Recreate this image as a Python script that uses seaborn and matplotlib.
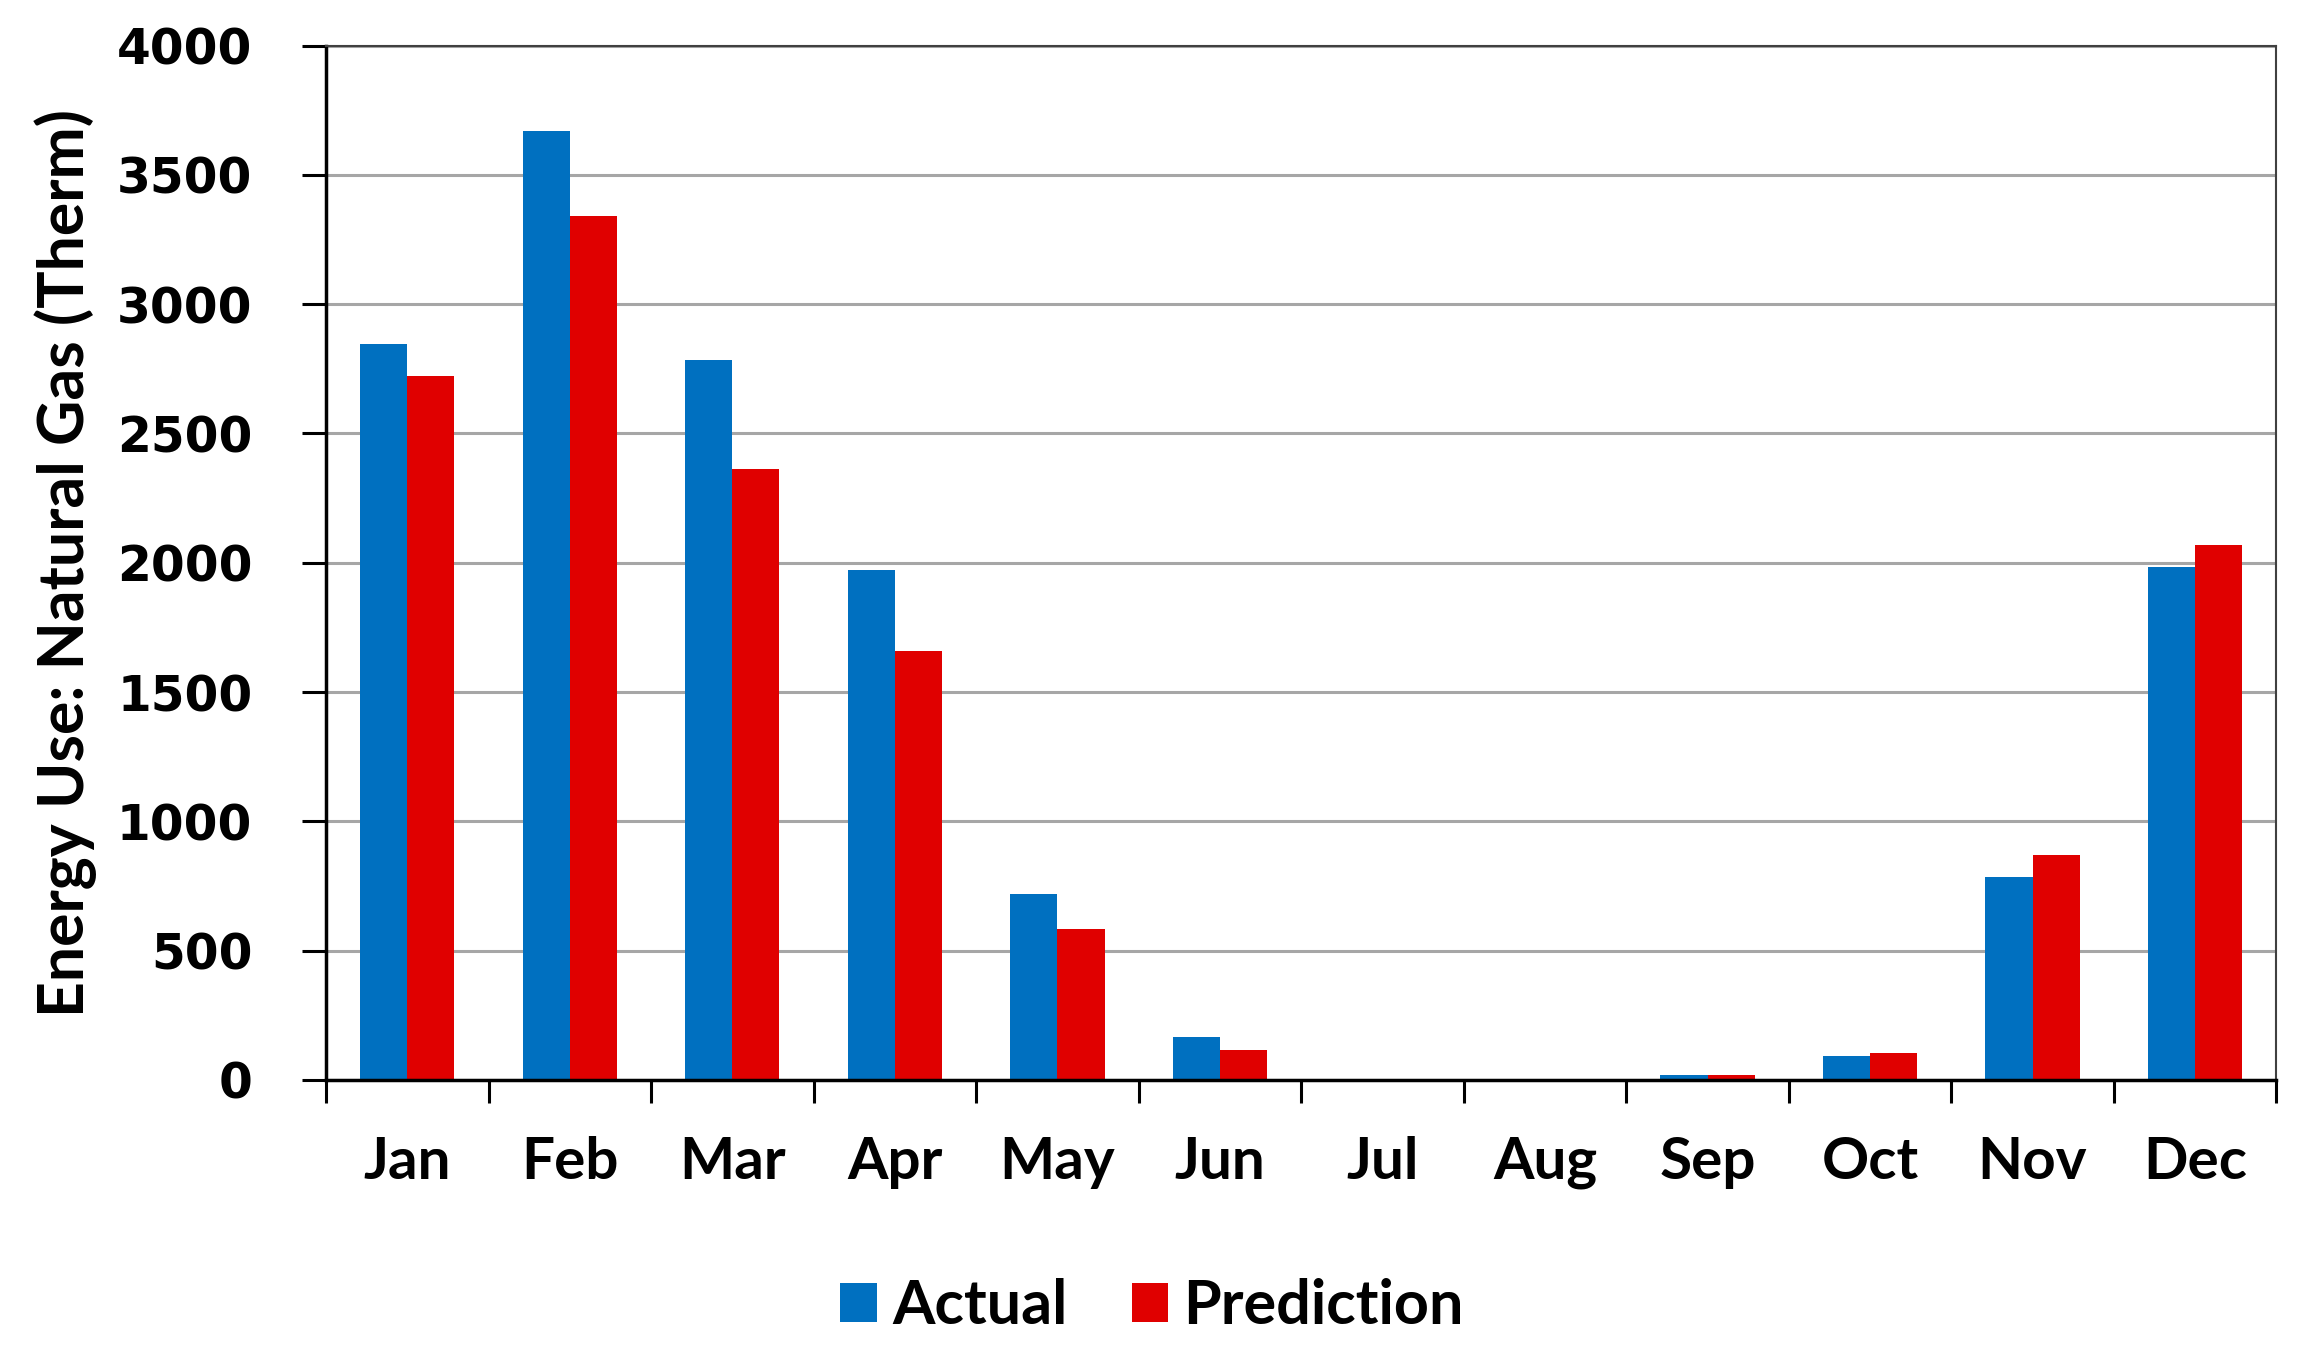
import matplotlib
matplotlib.use("Agg")
import matplotlib.pyplot as plt
import seaborn as sns
import pandas as pd
import numpy as np
from matplotlib.patches import Patch

months = ["Jan", "Feb", "Mar", "Apr", "May", "Jun", "Jul", "Aug", "Sep", "Oct", "Nov", "Dec"]
actual = [2845, 3670, 2783, 1971, 721, 166, 0, 0, 18, 92, 785, 1982]
prediction = [2721, 3340, 2363, 1659, 585, 115, 0, 0, 18, 103, 869, 2068]
series_names = ["Actual", "Prediction"]
colors = ["#0070C0", "#E00000"]
yticks = [0, 500, 1000, 1500, 2000, 2500, 3000, 3500, 4000]

df = pd.DataFrame({
    "Month": months * 2,
    "Value": actual + prediction,
    "Series": [series_names[0]] * len(months) + [series_names[1]] * len(months),
})

sns.set_theme(style="white")
plt.rcParams["font.family"] = ["DejaVu Sans"]
plt.rcParams["text.color"] = "black"
plt.rcParams["xtick.color"] = "black"
plt.rcParams["ytick.color"] = "black"
plt.rcParams["axes.labelcolor"] = "black"

fig = plt.figure(figsize=(23.04, 13.52), dpi=100)
ax = fig.add_axes([0.1415, 0.2012, 0.8465, 0.7651])

sns.barplot(data=df, x="Month", y="Value", hue="Series", order=months,
            hue_order=series_names, palette=colors, width=0.58, ax=ax,
            saturation=1, legend=False, linewidth=0)

ax.set_ylim(0, 4000)
ax.set_xlim(-0.5, len(months) - 0.5)
ax.set_yticks(yticks)
ax.set_yticklabels([str(v) for v in yticks], fontsize=35, fontweight="bold",
                   family="DejaVu Sans")
ax.yaxis.grid(True, color="#A6A6A6", linewidth=2.2)
ax.set_axisbelow(True)

ax.set_xticks(range(len(months)))
ax.set_xticklabels(months, fontsize=42, fontweight="bold", family="Lato")
ax.set_xticks(np.arange(-0.5, len(months), 1.0), minor=True)
ax.tick_params(axis="x", which="major", length=0, pad=40)
ax.tick_params(axis="x", which="minor", length=16.5, width=2.2, color="black",
               direction="out", bottom=True)
ax.tick_params(axis="y", which="major", length=17, width=2.2, color="black",
               direction="out", left=True, pad=36)

ax.set_xlabel("")
ax.set_ylabel("Energy Use: Natural Gas (Therm)", fontsize=45, fontweight="bold",
              family="Lato", labelpad=14)

for side in ["left", "bottom"]:
    ax.spines[side].set_color("black")
    ax.spines[side].set_linewidth(2.5)
for side in ["top", "right"]:
    ax.spines[side].set_color("#404040")
    ax.spines[side].set_linewidth(1.5)

handles = [Patch(facecolor=c, edgecolor="none") for c in colors]
fig.legend(handles, series_names, loc="center", bbox_to_anchor=(0.5, 0.034),
           ncol=2, frameon=False, prop={"family": "Lato", "weight": "bold", "size": 44},
           handlelength=0.6, handleheight=0.6, handletextpad=0.25, columnspacing=1.05)

fig.savefig("out.png", dpi=100)
